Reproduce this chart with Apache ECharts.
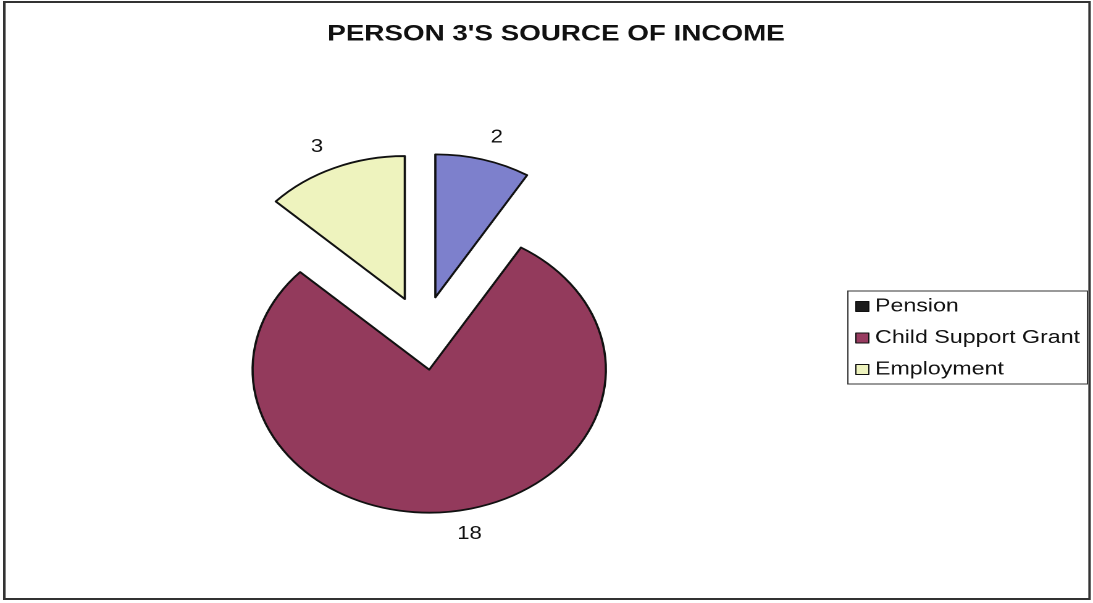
<!DOCTYPE html>
<html>
<head>
<meta charset="utf-8">
<title>Person 3's Source of Income</title>
<script src="https://cdn.jsdelivr.net/npm/echarts@6/dist/echarts.min.js"></script>
<style>
  html, body { margin: 0; padding: 0; background: #ffffff; }
  /* The chart is laid out on a narrower canvas and widened to the page width. */
  #chart {
    position: absolute; left: 0; top: 0;
    width: 885px; height: 603px;
    transform-origin: 0 0;
    transform: scaleX(1.23503);
  }
</style>
</head>
<body>
<div id="chart"></div>
<script>
// Income sources and number of people per source
const categories = ['Pension', 'Child Support Grant', 'Employment'];
const values = [2, 18, 3];
const chartTitle = "PERSON 3'S SOURCE OF INCOME";

// Slice fills and legend swatch fills
const sliceColors = ['#7d80cc', '#933a5c', '#eef3be'];
const legendSwatchColors = ['#1c1c1c', '#983b60', '#eef3be'];

const FONT = "'Liberation Sans', Arial, Helvetica, sans-serif";

const chart = echarts.init(document.getElementById('chart'), null, {
  renderer: 'canvas',
  devicePixelRatio: 2
});

const pieData = categories.map((name, i) => ({
  name: name,
  value: values[i],
  selected: true,
  itemStyle: { color: sliceColors[i] }
}));

const legendData = categories.map((name, i) => ({
  name: name,
  itemStyle: { color: legendSwatchColors[i], borderColor: '#111', borderWidth: 1 }
}));

chart.setOption({
  animation: false,
  backgroundColor: '#ffffff',
  title: {
    text: chartTitle,
    left: 265,
    top: 23,
    padding: 0,
    textStyle: {
      fontFamily: FONT,
      fontSize: 22.5,
      fontWeight: 'bold',
      color: '#111111'
    }
  },
  legend: {
    orient: 'vertical',
    left: 686.5,
    top: 291,
    padding: [6, 6, 5, 6],
    itemGap: 12.5,
    itemWidth: 10.5,
    itemHeight: 10,
    icon: 'rect',
    borderColor: '#333333',
    borderWidth: 1,
    selectedMode: false,
    textStyle: { fontFamily: FONT, fontSize: 18.8, color: '#111111' },
    data: legendData
  },
  graphic: [{
    type: 'rect',
    silent: true,
    shape: { x: 3.5, y: 2, width: 878.7, height: 597 },
    style: { fill: 'none', stroke: '#333333', lineWidth: 2 }
  }],
  series: [{
    type: 'pie',
    center: [342.5, 333],
    radius: 143,
    startAngle: 90,
    clockwise: true,
    selectedMode: 'multiple',
    selectedOffset: 37,
    avoidLabelOverlap: false,
    silent: true,
    emphasis: { disabled: true },
    itemStyle: { borderColor: '#111111', borderWidth: 1.8 },
    select: { itemStyle: { borderColor: '#111111', borderWidth: 1.8 } },
    label: {
      show: true,
      position: 'outside',
      formatter: '{c}',
      fontFamily: FONT,
      fontSize: 18,
      color: '#111111',
      distanceToLabelLine: 0
    },
    labelLine: { show: false, length: 23, length2: 0 },
    data: pieData
  }]
});
</script>
</body>
</html>
